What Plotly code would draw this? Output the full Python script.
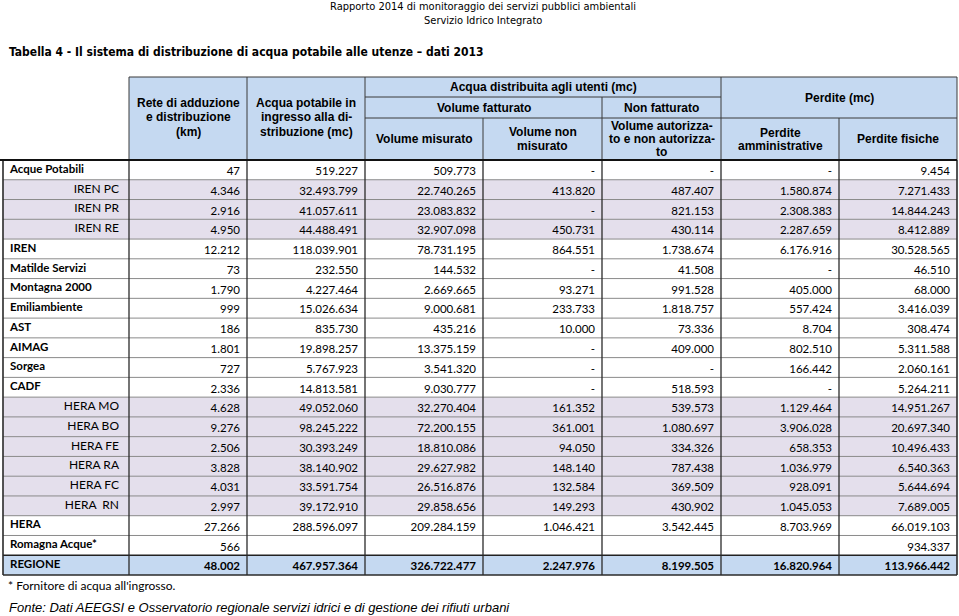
import plotly.graph_objects as go

# ---------------- data ----------------
row_labels = ["Acque Potabili", "IREN PC", "IREN PR", "IREN RE", "IREN", "Matilde Servizi",
              "Montagna 2000", "Emiliambiente", "AST", "AIMAG", "Sorgea", "CADF",
              "HERA MO", "HERA BO", "HERA FE", "HERA RA", "HERA FC", "HERA  RN", "HERA",
              "Romagna Acque*", "REGIONE"]
row_kind = ["main", "sub", "sub", "sub", "main", "main", "main", "main", "main", "main",
            "main", "main", "sub", "sub", "sub", "sub", "sub", "sub", "main", "main", "total"]

B = ""  # empty cell; None = "-"
rete_km = [47, 4346, 2916, 4950, 12212, 73, 1790, 999, 186, 1801, 727, 2336,
           4628, 9276, 2506, 3828, 4031, 2997, 27266, 566, 48002]
acqua_ingresso = [519227, 32493799, 41057611, 44488491, 118039901, 232550, 4227464, 15026634,
                  835730, 19898257, 5767923, 14813581, 49052060, 98245222, 30393249, 38140902,
                  33591754, 39172910, 288596097, B, 467957364]
vol_misurato = [509773, 22740265, 23083832, 32907098, 78731195, 144532, 2669665, 9000681,
                435216, 13375159, 3541320, 9030777, 32270404, 72200155, 18810086, 29627982,
                26516876, 29858656, 209284159, B, 326722477]
vol_non_misurato = [None, 413820, None, 450731, 864551, None, 93271, 233733, 10000, None, None,
                    None, 161352, 361001, 94050, 148140, 132584, 149293, 1046421, B, 2247976]
vol_autorizzato = [None, 487407, 821153, 430114, 1738674, 41508, 991528, 1818757, 73336, 409000,
                   None, 518593, 539573, 1080697, 334326, 787438, 369509, 430902, 3542445, B, 8199505]
perdite_amm = [None, 1580874, 2308383, 2287659, 6176916, None, 405000, 557424, 8704, 802510,
               166442, None, 1129464, 3906028, 658353, 1036979, 928091, 1045053, 8703969, B, 16820964]
perdite_fis = [9454, 7271433, 14844243, 8412889, 30528565, 46510, 68000, 3416039, 308474, 5311588,
               2060161, 5264211, 14951267, 20697340, 10496433, 6540363, 5644694, 7689005, 66019103,
               934337, 113966442]

columns = [rete_km, acqua_ingresso, vol_misurato, vol_non_misurato, vol_autorizzato,
           perdite_amm, perdite_fis]

title_top1 = "Rapporto 2014 di monitoraggio dei servizi pubblici ambientali"
title_top2 = "Servizio Idrico Integrato"
table_title = "Tabella 4 - Il sistema di distribuzione di acqua potabile alle utenze \u2013 dati 2013"
footnote = "* Fornitore di acqua all'ingrosso."
source = "Fonte: Dati AEEGSI e Osservatorio regionale servizi idrici e di gestione dei rifiuti urbani"

# ---------------- layout geometry (style) ----------------
W, H = 959, 616
col_edges = [3, 129, 247, 365, 483, 602, 721, 839, 957]
hdr_top, hdr_l1, hdr_l2, hdr_bot = 77, 97, 118, 160
body_bot = 575
nrows = len(row_labels)
rh = (body_bot - hdr_bot) / nrows

HDR_FILL = "#C5D9F1"
SUB_FILL = "#E4DFEC"
TOT_FILL = "#C5D9F1"
LINE = "#3a3a3a"
HFONT = "Liberation Sans"
BFONT = "Lato"
NFONT = "DejaVu Sans Condensed"


def fmt(v):
    if v is None:
        return "-"
    if v == "":
        return ""
    return f"{v:,}".replace(",", ".")


fig = go.Figure()
shapes = []
annotations = []

# body fills
for i, kind in enumerate(row_kind):
    y0 = hdr_bot + i * rh
    fill = {"sub": SUB_FILL, "total": TOT_FILL}.get(kind)
    if fill:
        shapes.append(dict(type="rect", xref="x", yref="y", x0=col_edges[0], x1=col_edges[-1],
                           y0=y0, y1=y0 + rh, fillcolor=fill, line_width=0, layer="below"))

# header fill
shapes.append(dict(type="rect", xref="x", yref="y", x0=col_edges[1], x1=col_edges[-1],
                   y0=hdr_top, y1=hdr_bot, fillcolor=HDR_FILL, line_width=0, layer="below"))


def hline(y, x0, x1, w=1, c=LINE):
    shapes.append(dict(type="line", xref="x", yref="y", x0=x0, x1=x1, y0=y, y1=y,
                       line=dict(color=c, width=w)))


def vline(x, y0, y1, w=1, c=LINE):
    shapes.append(dict(type="line", xref="x", yref="y", x0=x, x1=x, y0=y0, y1=y1,
                       line=dict(color=c, width=w)))


# body horizontal lines
for i in range(1, nrows):
    y = hdr_bot + i * rh
    if row_kind[i] == "total":
        hline(y, col_edges[0], col_edges[-1], 1.5, "#222")
    else:
        hline(y, col_edges[0], col_edges[-1], 1, "#8a8a8a")
# body vertical lines
for k, x in enumerate(col_edges):
    vline(x, hdr_bot, body_bot, 1.6 if k in (0, len(col_edges) - 1) else 1.3, "#2a2a2a")
hline(body_bot, col_edges[0], col_edges[-1], 1.6, "#2a2a2a")

# header lines
hline(hdr_top, col_edges[1], col_edges[-1], 1.2)
hline(hdr_l1, col_edges[3], col_edges[6], 1)
hline(hdr_l2, col_edges[3], col_edges[-1], 1)
for x in (col_edges[1], col_edges[2], col_edges[3], col_edges[6], col_edges[-1]):
    vline(x, hdr_top, hdr_bot, 1)
vline(col_edges[5], hdr_l1, hdr_bot, 1)
vline(col_edges[4], hdr_l2, hdr_bot, 1)
vline(col_edges[7], hdr_l2, hdr_bot, 1)
hline(hdr_bot, 0, col_edges[-1], 2, "#111")


# header texts (one annotation per line for tight line spacing)
def htext(lines, x0, x1, yc, spacing=13.5):
    n = len(lines)
    for k, ln in enumerate(lines):
        annotations.append(dict(text=f"<b>{ln}</b>", x=(x0 + x1) / 2,
                                y=yc + (k - (n - 1) / 2) * spacing, xref="x", yref="y",
                                showarrow=False, xanchor="center", yanchor="middle",
                                font=dict(family=HFONT, size=12, color="#000")))


e = col_edges
htext(["Rete di adduzione", "e distribuzione", "(km)"], e[1], e[2], 117, 14.5)
htext(["Acqua potabile in", "ingresso alla di-", "stribuzione (mc)"], e[2], e[3], 117, 14.5)
htext(["Acqua distribuita agli utenti (mc)"], e[3], e[6], 87)
htext(["Volume fatturato"], e[3], e[5], 107.5)
htext(["Non fatturato"], e[5], e[6], 107.5)
htext(["Perdite (mc)"], e[6], e[8], 97.5)
htext(["Volume misurato"], e[3], e[4], 139)
htext(["Volume non", "misurato"], e[4], e[5], 139, 13.5)
htext(["Volume autorizza-", "to e non autorizza-", "to"], e[5], e[6], 138.5, 13)
htext(["Perdite", "amministrative"], e[6], e[7], 139, 13)
htext(["Perdite fisiche"], e[7], e[8], 139)

# row labels
for i, (lab, kind) in enumerate(zip(row_labels, row_kind)):
    yc = hdr_bot + i * rh + rh * 0.5
    if kind == "sub":
        fig.add_trace(go.Scatter(x=[e[1] - 10], y=[yc], mode="text", text=[lab],
                                 textposition="middle left", hoverinfo="skip",
                                 textfont=dict(family=BFONT, size=12, color="#000")))
    else:
        fig.add_trace(go.Scatter(x=[e[0] + 7], y=[yc], mode="text", text=[f"<b>{lab}</b>"],
                                 textposition="middle right", hoverinfo="skip",
                                 textfont=dict(family=BFONT, size=11.5, color="#000")))

# numbers
for c, vals in enumerate(columns):
    xs, ys, ts = [], [], []
    for i, v in enumerate(vals):
        t = fmt(v)
        if t == "":
            continue
        if row_kind[i] == "total":
            t = f"<b>{t}</b>"
        xs.append(e[c + 2] - 7)
        ys.append(hdr_bot + i * rh + rh * 0.62)
        ts.append(t)
    fig.add_trace(go.Scatter(x=xs, y=ys, mode="text", text=ts, textposition="middle left",
                             hoverinfo="skip",
                             textfont=dict(family=BFONT, size=11.5, color="#000")))

# titles
annotations.append(dict(text=title_top1, x=483, y=6, xref="x", yref="y", showarrow=False,
                        xanchor="center", yanchor="middle",
                        font=dict(family=NFONT, size=11, color="#000")))
annotations.append(dict(text=title_top2, x=483, y=20, xref="x", yref="y", showarrow=False,
                        xanchor="center", yanchor="middle",
                        font=dict(family=NFONT, size=11, color="#000")))
annotations.append(dict(text=f"<b>{table_title}</b>", x=7, y=52, xref="x", yref="y",
                        showarrow=False, xanchor="left", yanchor="middle",
                        font=dict(family=NFONT, size=12, color="#000")))
annotations.append(dict(text=footnote, x=6, y=585, xref="x", yref="y", showarrow=False,
                        xanchor="left", yanchor="middle",
                        font=dict(family=BFONT, size=12, color="#000")))
annotations.append(dict(text=f"<i>{source}</i>", x=7, y=607, xref="x", yref="y",
                        showarrow=False, xanchor="left", yanchor="middle",
                        font=dict(family=HFONT, size=13, color="#000")))

fig.update_layout(
    width=W, height=H, margin=dict(l=0, r=0, t=0, b=0),
    paper_bgcolor="white", plot_bgcolor="white", showlegend=False,
    xaxis=dict(range=[0, W], visible=False, fixedrange=True),
    yaxis=dict(range=[H, 0], visible=False, fixedrange=True),
    shapes=shapes, annotations=annotations,
)

fig.write_html("out.html", config={"displayModeBar": False},
               post_script="document.body.style.margin='0';document.body.style.overflow='hidden';")
